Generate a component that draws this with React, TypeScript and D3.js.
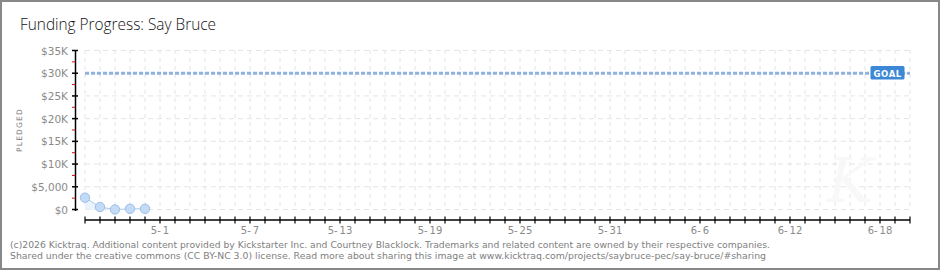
import React, { useEffect } from "react";
import * as d3 from "d3";

const dates: string[] = ["4-26", "4-27", "4-28", "4-29", "4-30"];
const pledged: number[] = [2600, 550, 0, 150, 150];
const goal = 30000;
const yTicks: number[] = [0, 5000, 10000, 15000, 20000, 25000, 30000, 35000];
const yTickLabels: string[] = ["$0", "$5,000", "$10K", "$15K", "$20K", "$25K", "$30K", "$35K"];
const xLabels: string[] = ["5-1", "5-7", "5-13", "5-19", "5-25", "5-31", "6-6", "6-12", "6-18"];
const title = "Funding Progress: Say Bruce";
const footer1 =
  "(c)2026 Kicktraq. Additional content provided by Kickstarter Inc. and Courtney Blacklock. Trademarks and related content are owned by their respective companies.";
const footer2 =
  "Shared under the creative commons (CC BY-NC 3.0) license. Read more about sharing this image at www.kicktraq.com/projects/saybruce-pec/say-bruce/#sharing";

const W = 940;
const H = 270;
const start = new Date(2026, 3, 26);
const end = new Date(2026, 5, 20);

function parse(s: string): Date {
  const [m, d] = s.split("-").map(Number);
  return new Date(2026, m - 1, d);
}

export default function App() {
  useEffect(() => {
    document.body.style.margin = "0";
  }, []);

  const x = d3.scaleTime().domain([start, end]).range([85, 910]);
  const y = d3.scaleLinear().domain([0, 35000]).range([209.5, 50.5]);
  const days = d3.timeDay.range(start, d3.timeDay.offset(end, 1));
  const minorY = d3.range(2500, 35000, 5000);

  const pts = dates.map((d, i) => ({ x: x(parse(d)), y: y(pledged[i]) }));
  const line = d3
    .line<{ x: number; y: number }>()
    .x((d) => d.x)
    .y((d) => d.y);
  const area = d3
    .area<{ x: number; y: number }>()
    .x((d) => d.x)
    .y0(y(0))
    .y1((d) => d.y);

  const font = "'DejaVu Sans', sans-serif";

  return (
    <svg width={W} height={H} style={{ display: "block" }} fontFamily={font}>
      <rect x={1} y={1} width={W - 2} height={H - 2} fill="#fff" stroke="#888" strokeWidth={2} />
      <text x={20} y={30} fontSize={16} fill="#111" fontFamily="'Open Sans', sans-serif" fontWeight={300} textLength={196} lengthAdjust="spacingAndGlyphs">
        {title}
      </text>

      {/* grid */}
      {days.map((d, i) => (
        <line key={"vg" + i} x1={x(d)} x2={x(d)} y1={50} y2={210} stroke="#e4e4e4" strokeDasharray="4,4" />
      ))}
      {yTicks.map((t, i) => (
        <line key={"hg" + i} x1={85} x2={910} y1={y(t)} y2={y(t)} stroke="#e4e4e4" strokeDasharray="5,4" />
      ))}

      {/* watermark */}
      <text x={850} y={202} fontSize={62} fill="#f8f8f8" fontStyle="italic" fontFamily="'DejaVu Serif', serif" textAnchor="middle">
        K
      </text>

      {/* goal */}
      <line x1={85} x2={910} y1={y(goal)} y2={y(goal)} stroke="#8fb3df" strokeWidth={3} strokeDasharray="4,2" />
      <rect x={870.5} y={66} width={34} height={13.5} rx={1.5} fill="#3c87d6" />
      <text x={873.5} y={76.5} fontSize={8.5} fill="#fff" fontWeight="bold" letterSpacing={0.6}>
        GOAL
      </text>

      {/* data */}
      <path d={area(pts) || ""} fill="#eaf2fc" />
      <path d={line(pts) || ""} fill="none" stroke="#aecbef" strokeWidth={1} />
      {pts.map((p, i) => (
        <circle key={"p" + i} cx={p.x} cy={p.y} r={4.7} fill="#c4dbf6" stroke="#9cbfea" strokeWidth={1} />
      ))}

      {/* y axis */}
      <line x1={75.5} x2={75.5} y1={50} y2={211} stroke="#000" strokeWidth={1.5} />
      {yTicks.map((t, i) => (
        <g key={"yt" + i}>
          <line x1={72} x2={78} y1={y(t)} y2={y(t)} stroke="#000" strokeWidth={1.5} />
          <text x={68} y={y(t) + 4} fontSize={10.5} fill="#8a8a8a" textAnchor="end">
            {yTickLabels[i]}
          </text>
        </g>
      ))}
      {minorY.map((t, i) => (
        <line key={"ym" + i} x1={72} x2={75} y1={y(t)} y2={y(t)} stroke="#e00" strokeWidth={1} />
      ))}
      <text transform="translate(22,130) rotate(-90)" fontSize={7.5} fill="#777" textAnchor="middle" letterSpacing={1.2}>
        PLEDGED
      </text>

      {/* x axis */}
      <line x1={85} x2={910} y1={220} y2={220} stroke="#000" strokeWidth={1.5} />
      {days.map((d, i) => (
        <line key={"xt" + i} x1={x(d)} x2={x(d)} y1={216.5} y2={223.5} stroke="#000" strokeWidth={1.2} />
      ))}
      {xLabels.map((l, i) => (
        <text key={"xl" + i} x={x(parse(l))} y={234} fontSize={10} fill="#8a8a8a" textAnchor="middle">
          {l.replace("-", "-\u2009")}
        </text>
      ))}

      {/* footer */}
      <text x={10} y={247.5} fontSize={9.5} fill="#808080" textLength={760} lengthAdjust="spacingAndGlyphs">
        {footer1}
      </text>
      <text x={10} y={259} fontSize={9.5} fill="#808080" textLength={756} lengthAdjust="spacingAndGlyphs">
        {footer2}
      </text>
    </svg>
  );
}
